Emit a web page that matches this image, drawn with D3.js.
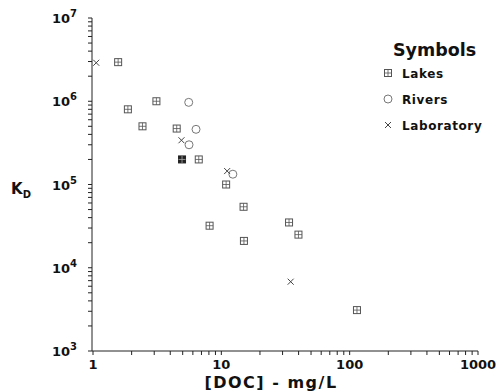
<!DOCTYPE html>
<html><head><meta charset="utf-8">
<script src="https://cdn.jsdelivr.net/npm/d3@7"></script>
<style>body{margin:0;background:#fff}svg{display:block}text{font-family:"DejaVu Sans",Arial,sans-serif;font-weight:bold;fill:#111}</style>
</head><body><svg id="c" width="498" height="391"></svg>
<script>
// Data: [DOC] (mg/L) vs K_D
const lakesX = [1.57, 1.87, 3.12, 2.43, 4.49, 6.67, 10.9, 14.9, 8.1, 33.7, 39.9, 15.0, 114];
const lakesY = [2.95e6, 8.0e5, 1.0e6, 5.0e5, 4.7e5, 2.0e5, 1.0e5, 5.4e4, 3.2e4, 3.5e4, 2.5e4, 2.1e4, 3.1e3];
const lakesFilledX = [4.94];
const lakesFilledY = [2.0e5];
const riversX = [5.57, 6.35, 5.6, 12.3];
const riversY = [9.7e5, 4.6e5, 3.0e5, 1.33e5];
const labX = [1.06, 4.89, 11.1, 34.7];
const labY = [2.9e6, 3.4e5, 1.45e5, 6.8e3];
const xTickVals = [1, 10, 100, 1000];
const xTickLabels = ["1", "10", "100", "1000"];
const yTickExps = [3, 4, 5, 6, 7];
const legendItems = ["Lakes", "Rivers", "Laboratory"];

const svg = d3.select("#c");
const x = d3.scaleLog().domain([1, 1000]).range([93, 478]);
const y = d3.scaleLog().domain([1e3, 1e7]).range([351, 18]);
const ink = "#222", sym = "#555";

// axes lines
svg.append("line").attr("x1", 92).attr("x2", 92).attr("y1", y(1e7)).attr("y2", y(1e3)).attr("stroke", ink).attr("stroke-width", 1);
svg.append("line").attr("x1", 92).attr("x2", x(1000)).attr("y1", y(1e3)).attr("y2", y(1e3)).attr("stroke", ink).attr("stroke-width", 1);

// minor/major ticks
const xt = [];
for (let d = 1; d <= 100; d *= 10) for (let m = 1; m <= 9; m++) xt.push(d * m);
xt.push(1000);
svg.selectAll(".xt").data(xt).enter().append("line")
  .attr("x1", d => x(d)).attr("x2", d => x(d)).attr("y1", 351).attr("y2", 355)
  .attr("stroke", ink).attr("stroke-width", 1);
const yt = [];
for (let d = 1e3; d <= 1e6; d *= 10) for (let m = 1; m <= 9; m++) yt.push(d * m);
yt.push(1e7);
svg.selectAll(".yt").data(yt).enter().append("line")
  .attr("x1", 88).attr("x2", 92).attr("y1", d => y(d)).attr("y2", d => y(d))
  .attr("stroke", ink).attr("stroke-width", 1);

// x labels
svg.selectAll(".xl").data(xTickVals).enter().append("text")
  .attr("x", d => x(d)).attr("y", 369).attr("text-anchor", "middle")
  .attr("font-size", 13).text((d, i) => xTickLabels[i]);
svg.append("text").attr("x", 271).attr("y", 388).attr("text-anchor", "middle")
  .attr("font-size", 16).attr("letter-spacing", 1.5).text("[DOC] - mg/L");

// y labels
yTickExps.forEach(e => {
  const t = svg.append("text").attr("x", 52).attr("y", y(Math.pow(10, e)) + 5).attr("font-size", 13);
  t.append("tspan").text("10");
  t.append("tspan").attr("dy", -6).attr("font-size", 10).text(e);
});
const kd = svg.append("text").attr("x", 11).attr("y", 194).attr("font-size", 15);
kd.append("tspan").text("K");
kd.append("tspan").attr("dy", 4).attr("font-size", 10).text("D");

// symbols
function lake(g, filled) {
  const s = 7;
  g.append("rect").attr("x", -s/2).attr("y", -s/2).attr("width", s).attr("height", s)
    .attr("fill", filled ? "#222" : "none").attr("stroke", filled ? "#222" : sym).attr("stroke-width", 1);
  g.append("line").attr("x1", -s/2).attr("x2", s/2).attr("y1", 0).attr("y2", 0).attr("stroke", filled ? "#aaa" : sym).attr("stroke-width", 0.8);
  g.append("line").attr("y1", -s/2).attr("y2", s/2).attr("x1", 0).attr("x2", 0).attr("stroke", filled ? "#aaa" : sym).attr("stroke-width", 0.8);
}
function river(g) {
  g.append("circle").attr("r", 4).attr("fill", "none").attr("stroke", "#777").attr("stroke-width", 1);
}
function lab(g) {
  const s = 3;
  g.append("path").attr("d", `M${-s},${-s}L${s},${s}M${-s},${s}L${s},${-s}`).attr("stroke", "#444").attr("stroke-width", 1);
}
function plot(xs, ys, fn, arg) {
  xs.forEach((v, i) => { const g = svg.append("g").attr("transform", `translate(${x(v)},${y(ys[i])})`); fn(g, arg); });
}
plot(lakesX, lakesY, lake, false);
plot(lakesFilledX, lakesFilledY, lake, true);
plot(riversX, riversY, river);
plot(labX, labY, lab);

// legend
svg.append("text").attr("x", 393).attr("y", 56).attr("font-size", 17.5).text("Symbols");
const lfn = [g => lake(g, false), g => river(g), g => lab(g)];
legendItems.forEach((t, i) => {
  const cy = 73 + i * 26;
  const g = svg.append("g").attr("transform", `translate(388,${cy})`);
  lfn[i](g);
  svg.append("text").attr("x", 402).attr("y", cy + 4.5).attr("font-size", 12).attr("letter-spacing", 0.6).text(t);
});
</script></body></html>
